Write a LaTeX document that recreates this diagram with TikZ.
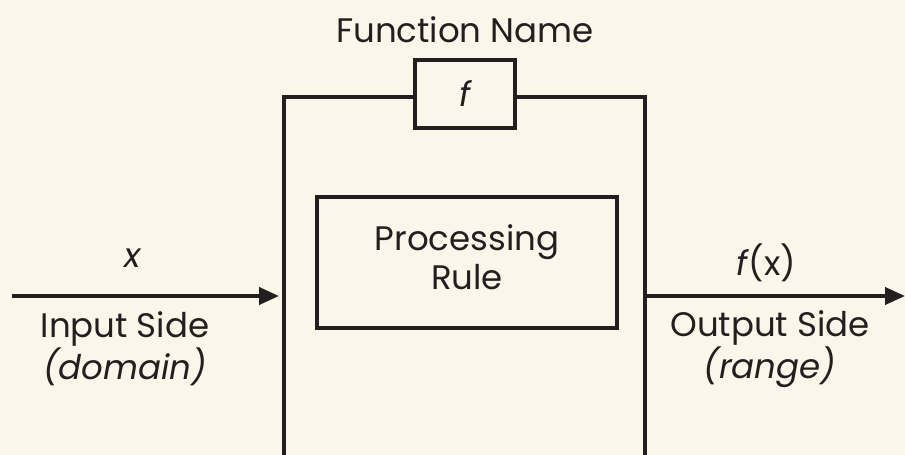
\documentclass[tikz,border=0pt]{standalone}
\usepackage{fontspec}
\setmainfont{Poppins}
\usetikzlibrary{arrows.meta}
\definecolor{bg}{HTML}{FAF7EA}
\definecolor{ink}{HTML}{231F20}
\tikzset{
  boxline/.style={draw=ink, line width=4pt},
  lbl/.style={text=ink, font=\fontsize{34}{39}\selectfont, inner sep=0pt, align=center},
  arr/.style={draw=ink, line width=4pt, -{Triangle[length=20pt,width=17pt]}},
}
\begin{document}
\begin{tikzpicture}[x=1pt,y=-1pt]
\useasboundingbox[fill=bg] (0,0) rectangle (905,455);
% outer open box
\coordinate (tl) at (284,97);
\coordinate (tr) at (645,97);
\coordinate (bl) at (284,460);
\coordinate (br) at (645,460);
\node[boxline, minimum width=100pt, minimum height=68pt, inner sep=0pt, fill=bg] (fbox) at (465,94) {};
\node[lbl] (flabel) at (fbox.center) {\itshape f};
\draw[boxline, line join=miter] (fbox.west |- tl) -- (tl) -- (bl);
\draw[boxline, line join=miter] (fbox.east |- tr) -- (tr) -- (br);
\node[lbl] (fname) at (465,30) {Function Name};
% processing rule
\node[boxline, minimum width=300pt, minimum height=131pt, inner sep=0pt] (rule) at (467,262) {};
\node[lbl] (ruletext) at (467,257) {Processing\\Rule};
% arrows
\coordinate (inL) at (12,296);
\coordinate (inR) at (284,296);
\coordinate (outL) at (645,296);
\coordinate (outR) at (905,296);
\draw[arr] (inL) -- ([xshift=-5pt]inR);
\draw[arr] (outL) -- (outR);
\node[lbl] (xlab) at (133,258) {\itshape x};
\node[lbl] (inside) at (125,349) {Input Side\\\itshape (domain)};
\node[lbl] (fxlab) at (766,263) {\textit{f}(x)};
\node[lbl] (outside) at (770,349) {Output Side\\\itshape (range)};
\end{tikzpicture}
\end{document}
